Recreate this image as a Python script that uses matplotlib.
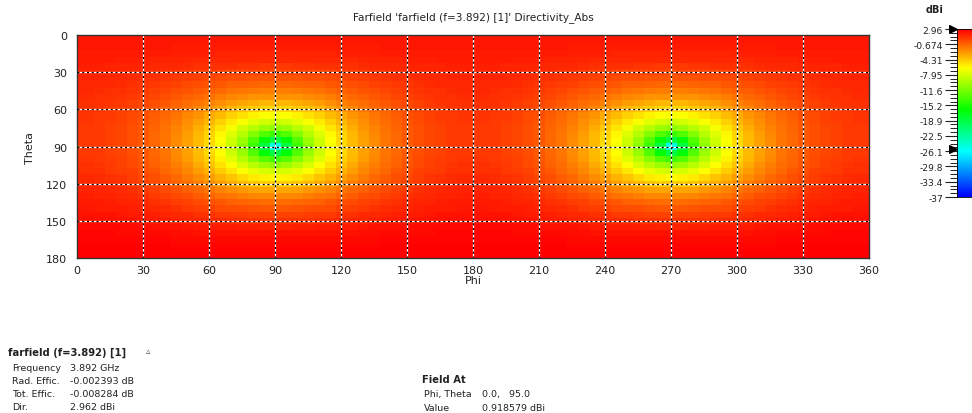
import numpy as np
import matplotlib
matplotlib.use("Agg")
import matplotlib.pyplot as plt
from matplotlib.colors import LinearSegmentedColormap, Normalize
from matplotlib.ticker import FixedLocator
import matplotlib.transforms as mtransforms

plt.rcParams['font.family'] = ['DejaVu Sans']

# ---------------- data ----------------
title = "Farfield 'farfield (f=3.892) [1]' Directivity_Abs"
theta_deg = [0, 5, 10, 15, 20, 25, 30, 35, 40, 45, 50, 55, 60, 65, 70, 75, 80, 85, 90,
             95, 100, 105, 110, 115, 120, 125, 130, 135, 140, 145, 150, 155, 160, 165, 170, 175, 180]
phi_quarter_deg = [0, 5, 10, 15, 20, 25, 30, 35, 40, 45, 50, 55, 60, 65, 70, 75, 80, 85, 90]

# Directivity (dBi) for phi = 0..90 (columns), theta = 0..180 (rows); the pattern
# is mirrored about phi = 90 and repeats for phi = 180..360.
directivity_quarter = [
    [2.1, 2.1, 2.1, 2.1, 2.1, 2.1, 2.1, 2.1, 2.1, 2.1, 2.1, 2.1, 2.1, 2.1, 2.1, 2.1, 2.1, 2.1, 2.1],
    [2.1, 2.1, 2.1, 2.1, 2.1, 2.1, 2.1, 2.1, 2.1, 2.1, 2.1, 2.1, 2.1, 2.1, 2.1, 2.1, 2.1, 2.1, 2.1],
    [2.1, 2.1, 2.1, 2.1, 2.1, 2.1, 2.1, 2.1, 2.1, 2.0, 2.0, 2.0, 2.0, 2.0, 2.0, 2.0, 2.0, 2.0, 2.0],
    [2.0, 2.0, 2.0, 2.0, 2.0, 1.9, 1.9, 1.9, 1.9, 1.8, 1.8, 1.8, 1.8, 1.7, 1.7, 1.7, 1.7, 1.7, 1.7],
    [1.9, 1.9, 1.9, 1.9, 1.8, 1.8, 1.8, 1.7, 1.7, 1.6, 1.6, 1.5, 1.5, 1.5, 1.4, 1.4, 1.4, 1.4, 1.4],
    [1.8, 1.8, 1.8, 1.7, 1.7, 1.7, 1.6, 1.5, 1.5, 1.4, 1.3, 1.2, 1.2, 1.1, 1.1, 1.0, 1.0, 0.9, 0.9],
    [1.7, 1.7, 1.7, 1.6, 1.6, 1.5, 1.4, 1.3, 1.2, 1.1, 1.0, 0.9, 0.8, 0.7, 0.6, 0.5, 0.5, 0.5, 0.4],
    [1.6, 1.6, 1.6, 1.5, 1.4, 1.3, 1.2, 1.1, 1.0, 0.8, 0.7, 0.5, 0.4, 0.2, 0.1, 0.0, -0.1, -0.1, -0.1],
    [1.5, 1.5, 1.4, 1.4, 1.3, 1.2, 1.0, 0.9, 0.7, 0.5, 0.3, 0.1, -0.1, -0.3, -0.5, -0.6, -0.7, -0.8, -0.8],
    [1.4, 1.4, 1.3, 1.2, 1.1, 1.0, 0.8, 0.6, 0.4, 0.1, -0.1, -0.4, -0.6, -0.9, -1.1, -1.3, -1.5, -1.6, -1.6],
    [1.3, 1.3, 1.2, 1.1, 1.0, 0.8, 0.6, 0.4, 0.1, -0.2, -0.5, -0.9, -1.2, -1.6, -1.9, -2.1, -2.4, -2.5, -2.5],
    [1.2, 1.2, 1.1, 1.0, 0.8, 0.6, 0.4, 0.1, -0.2, -0.6, -1.0, -1.4, -1.8, -2.3, -2.7, -3.1, -3.4, -3.6, -3.6],
    [1.1, 1.1, 1.0, 0.9, 0.7, 0.5, 0.2, -0.1, -0.5, -0.9, -1.4, -1.9, -2.5, -3.1, -3.6, -4.1, -4.5, -4.8, -4.9],
    [1.0, 1.0, 0.9, 0.8, 0.6, 0.3, 0.0, -0.4, -0.8, -1.3, -1.9, -2.5, -3.2, -3.9, -4.6, -5.3, -5.9, -6.3, -6.5],
    [1.0, 1.0, 0.9, 0.7, 0.5, 0.3, -0.1, -0.5, -1.0, -1.5, -2.2, -2.9, -3.7, -4.6, -5.6, -6.5, -7.4, -8.1, -8.3],
    [0.9, 0.9, 0.8, 0.6, 0.4, 0.1, -0.3, -0.7, -1.2, -1.8, -2.5, -3.4, -4.3, -5.4, -6.6, -8.0, -9.2, -10.2, -10.7],
    [0.9, 0.9, 0.8, 0.6, 0.4, 0.1, -0.3, -0.8, -1.3, -2.0, -2.8, -3.7, -4.7, -6.0, -7.5, -9.2, -11.1, -13.0, -13.9],
    [0.9, 0.9, 0.8, 0.6, 0.4, 0.1, -0.3, -0.8, -1.4, -2.1, -2.9, -3.9, -5.0, -6.4, -8.2, -10.2, -13.0, -16.5, -18.8],
    [0.9, 0.9, 0.8, 0.6, 0.4, 0.0, -0.4, -0.8, -1.4, -2.1, -2.9, -3.9, -5.1, -6.6, -8.4, -10.7, -13.9, -18.8, -25.6],
    [0.9, 0.9, 0.8, 0.6, 0.4, 0.1, -0.3, -0.8, -1.4, -2.1, -2.9, -3.9, -5.0, -6.4, -8.2, -10.2, -13.0, -16.5, -18.8],
    [1.0, 1.0, 0.9, 0.7, 0.5, 0.2, -0.2, -0.7, -1.2, -1.9, -2.7, -3.6, -4.6, -5.9, -7.4, -9.1, -11.0, -12.9, -13.8],
    [1.1, 1.1, 1.0, 0.8, 0.6, 0.3, -0.1, -0.5, -1.0, -1.6, -2.3, -3.2, -4.1, -5.2, -6.4, -7.8, -9.0, -10.0, -10.5],
    [1.2, 1.2, 1.1, 0.9, 0.7, 0.5, 0.1, -0.3, -0.8, -1.3, -2.0, -2.7, -3.5, -4.4, -5.4, -6.3, -7.2, -7.9, -8.1],
    [1.4, 1.4, 1.3, 1.2, 1.0, 0.7, 0.4, 0.0, -0.4, -0.9, -1.5, -2.1, -2.8, -3.5, -4.2, -4.9, -5.5, -5.9, -6.1],
    [1.5, 1.5, 1.4, 1.3, 1.1, 0.9, 0.6, 0.3, -0.1, -0.5, -1.0, -1.5, -2.1, -2.7, -3.2, -3.7, -4.1, -4.4, -4.5],
    [1.7, 1.7, 1.6, 1.5, 1.3, 1.1, 0.9, 0.6, 0.3, -0.1, -0.5, -0.9, -1.3, -1.8, -2.2, -2.6, -2.9, -3.1, -3.1],
    [1.8, 1.8, 1.7, 1.6, 1.5, 1.3, 1.1, 0.9, 0.6, 0.3, 0.0, -0.4, -0.7, -1.1, -1.4, -1.6, -1.9, -2.0, -2.0],
    [2.0, 2.0, 1.9, 1.8, 1.7, 1.6, 1.4, 1.2, 1.0, 0.7, 0.5, 0.2, 0.0, -0.3, -0.5, -0.7, -0.9, -1.0, -1.0],
    [2.1, 2.1, 2.0, 2.0, 1.9, 1.8, 1.6, 1.5, 1.3, 1.1, 0.9, 0.7, 0.5, 0.3, 0.1, 0.0, -0.1, -0.2, -0.2],
    [2.3, 2.3, 2.3, 2.2, 2.1, 2.0, 1.9, 1.8, 1.7, 1.5, 1.4, 1.2, 1.1, 0.9, 0.8, 0.7, 0.6, 0.6, 0.6],
    [2.4, 2.4, 2.4, 2.3, 2.3, 2.2, 2.1, 2.0, 1.9, 1.8, 1.7, 1.6, 1.5, 1.4, 1.3, 1.2, 1.2, 1.2, 1.1],
    [2.6, 2.6, 2.6, 2.5, 2.5, 2.5, 2.4, 2.3, 2.3, 2.2, 2.1, 2.0, 2.0, 1.9, 1.9, 1.8, 1.8, 1.7, 1.7],
    [2.7, 2.7, 2.7, 2.7, 2.6, 2.6, 2.6, 2.5, 2.5, 2.4, 2.4, 2.3, 2.3, 2.3, 2.2, 2.2, 2.2, 2.2, 2.2],
    [2.8, 2.8, 2.8, 2.8, 2.8, 2.7, 2.7, 2.7, 2.7, 2.6, 2.6, 2.6, 2.6, 2.5, 2.5, 2.5, 2.5, 2.5, 2.5],
    [2.9, 2.9, 2.9, 2.9, 2.9, 2.9, 2.9, 2.9, 2.9, 2.8, 2.8, 2.8, 2.8, 2.8, 2.8, 2.8, 2.8, 2.8, 2.8],
    [2.9, 2.9, 2.9, 2.9, 2.9, 2.9, 2.9, 2.9, 2.9, 2.9, 2.9, 2.9, 2.9, 2.9, 2.9, 2.9, 2.9, 2.9, 2.9],
    [2.96, 2.96, 2.96, 2.96, 2.96, 2.96, 2.96, 2.96, 2.96, 2.96, 2.96, 2.96, 2.96, 2.96, 2.96, 2.96, 2.96, 2.96, 2.96],
]

cbar_min = -37.0
cbar_max = 2.96
cbar_tick_labels = ["2.96", "-0.674", "-4.31", "-7.95", "-11.6", "-15.2",
                    "-18.9", "-22.5", "-26.1", "-29.8", "-33.4", "-37"]
x_ticks = [0, 30, 60, 90, 120, 150, 180, 210, 240, 270, 300, 330, 360]
y_ticks = [0, 30, 60, 90, 120, 150, 180]

info_title = "farfield (f=3.892) [1]"
info_labels = ["Frequency", "Rad. Effic.", "Tot. Effic.", "Dir."]
info_values = ["3.892 GHz", "-0.002393 dB", "-0.008284 dB", "2.962 dBi"]
field_title = "Field At"
field_labels = ["Phi, Theta", "Value"]
field_values = ["0.0,   95.0", "0.918579 dBi"]

# ---------------- assemble full grid by symmetry ----------------
quad = np.array(directivity_quarter)
half = np.hstack([quad, quad[:, -2::-1]])          # phi 0..180
full = np.hstack([half, half[:, 1:]])              # phi 0..360
step = phi_quarter_deg[1] - phi_quarter_deg[0]
phi_all = np.arange(full.shape[1]) * step
theta_all = np.array(theta_deg, dtype=float)
phi_edges = np.concatenate([phi_all - step / 2, [phi_all[-1] + step / 2]])
theta_edges = np.concatenate([theta_all - step / 2, [theta_all[-1] + step / 2]])

# CST-like colormap
cmap = LinearSegmentedColormap.from_list(
    "cst", [(0.0, (0, 0, 1)), (0.27, (0, 1, 1)), (0.52, (0, 1, 0)),
            (0.77, (1, 1, 0)), (1.0, (1, 0, 0))])
norm = Normalize(vmin=cbar_min, vmax=cbar_max)

# ---------------- figure ----------------
W, H = 972, 414
fig = plt.figure(figsize=(W / 100, H / 100), dpi=100)
ax = fig.add_axes([77 / W, 1 - 259 / H, (869 - 77) / W, (259 - 36) / H])
mesh = ax.pcolormesh(phi_edges, theta_edges, full, cmap=cmap, norm=norm, shading='flat')
ax.set_xlim(0, 360)
ax.set_ylim(180, 0)
ax.set_xticks(x_ticks)
ax.set_yticks(y_ticks)
ax.tick_params(length=0, labelsize=8, colors='#222222')
ax.tick_params(axis='x', pad=5)
ax.tick_params(axis='y', pad=7)
for s in ax.spines.values():
    s.set_linewidth(1.0)
    s.set_color('#333333')

for xv in x_ticks[1:-1]:
    ax.axvline(xv, color='white', lw=0.9, zorder=2)
    ax.axvline(xv, color='black', lw=0.9, ls=(0, (1.6, 2.2)), zorder=3)
for yv in y_ticks[1:-1]:
    ax.axhline(yv, color='white', lw=0.9, zorder=2)
    ax.axhline(yv, color='black', lw=0.9, ls=(0, (1.6, 2.2)), zorder=3)

ax.set_xlabel("Phi", fontsize=8, labelpad=0, color='#222222')
ax.set_ylabel("Theta", fontsize=8, labelpad=8, color='#222222')
fig.text(473 / W, 1 - 18 / H, title, ha='center', va='center', fontsize=7.6, color='#222222')

# ---------------- colorbar ----------------
cax = fig.add_axes([957 / W, 1 - 198 / H, 16 / W, (198 - 30) / H])
cb = fig.colorbar(mesh, cax=cax)
cb.outline.set_linewidth(0.6)
tick_vals = np.linspace(cbar_max, cbar_min, len(cbar_tick_labels))
cb.set_ticks(tick_vals)
cb.set_ticklabels(cbar_tick_labels)
cax.yaxis.set_ticks_position('left')
cax.yaxis.set_label_position('left')
minor = np.linspace(cbar_max, cbar_min, (len(cbar_tick_labels) - 1) * 4 + 1)
cax.yaxis.set_minor_locator(FixedLocator(minor))
cax.tick_params(which='major', length=9, width=0.8, labelsize=6.6, pad=1, colors='#222222')
cax.tick_params(which='minor', length=5, width=0.6, left=True, right=False)
fig.text(935 / W, 1 - 10 / H, "dBi", ha='center', va='center', fontsize=7, fontweight='bold', color='#222222')
trans = mtransforms.blended_transform_factory(cax.transAxes, cax.transData)
cax.scatter([-0.25, -0.25], [full.max(), full.min()], marker='>', s=30, color='black',
            transform=trans, clip_on=False, zorder=5)

# ---------------- info text ----------------
fig.text(8 / W, 1 - 353 / H, info_title, ha='left', va='center', fontsize=7.2, fontweight='bold', color='#222222')
fig.text(146 / W, 1 - 352 / H, "\u25b5", ha='left', va='center', fontsize=6.5, color='#555555')
for i, (lab, val) in enumerate(zip(info_labels, info_values)):
    y = 1 - (369 + 13 * i) / H
    fig.text(12 / W, y, lab, ha='left', va='center', fontsize=6.8, color='#222222')
    fig.text(70 / W, y, val, ha='left', va='center', fontsize=6.8, color='#222222')
fig.text(422 / W, 1 - 380 / H, field_title, ha='left', va='center', fontsize=7.2, fontweight='bold', color='#222222')
for i, (lab, val) in enumerate(zip(field_labels, field_values)):
    y = 1 - (395 + 14 * i) / H
    fig.text(424 / W, y, lab, ha='left', va='center', fontsize=6.8, color='#222222')
    fig.text(482 / W, y, val, ha='left', va='center', fontsize=6.8, color='#222222')

fig.savefig("out.png", dpi=100)
